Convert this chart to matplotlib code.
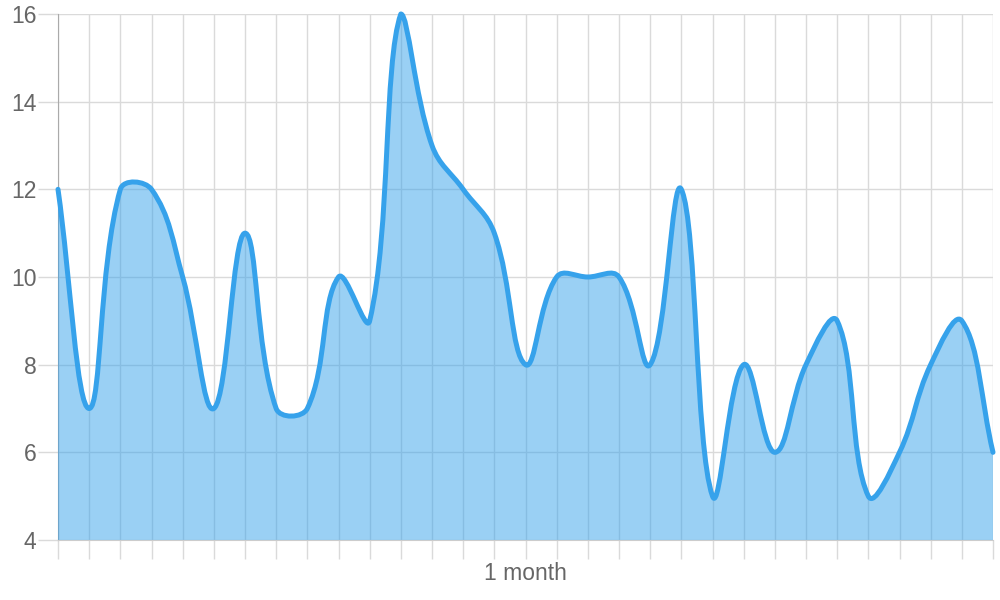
import matplotlib
matplotlib.use("Agg")
import matplotlib.pyplot as plt
import numpy as np
from matplotlib.path import Path
from matplotlib.patches import PathPatch

values = [12, 7, 12, 12, 10, 7, 11, 7, 7, 10, 9, 16, 13, 12, 11, 8, 10, 10, 10, 8,
          12, 5, 8, 6, 8, 9, 5, 6, 8, 9, 6]
y_ticks = [4, 6, 8, 10, 12, 14, 16]
x_label = "1 month"

plt.rcParams['font.family'] = ['Liberation Sans', 'DejaVu Sans']

fig = plt.figure(figsize=(10, 6), dpi=100)
L, R, B, T = 58, 993, 540, 14
ax = fig.add_axes([L / 1000, (600 - B) / 600, (R - L) / 1000, (B - T) / 600])
n = len(values)
ax.set_xlim(0, n - 1)
ax.set_ylim(4, 16)

# pixel-space spline (Chart.js style, tension 0.4)
sx = (R - L) / (n - 1)
sy = (B - T) / 12.0
px = np.arange(n) * sx
py = (np.array(values, float) - 4) * sy
t = 0.4
cps = []
for i in range(n):
    p0 = (px[max(i - 1, 0)], py[max(i - 1, 0)])
    p1 = (px[i], py[i])
    p2 = (px[min(i + 1, n - 1)], py[min(i + 1, n - 1)])
    d01 = np.hypot(p1[0] - p0[0], p1[1] - p0[1])
    d12 = np.hypot(p2[0] - p1[0], p2[1] - p1[1])
    s01 = d01 / (d01 + d12) if d01 + d12 else 0
    s12 = d12 / (d01 + d12) if d01 + d12 else 0
    fa, fb = t * s01, t * s12
    prev = (p1[0] - fa * (p2[0] - p0[0]), p1[1] - fa * (p2[1] - p0[1]))
    nxt = (p1[0] + fb * (p2[0] - p0[0]), p1[1] + fb * (p2[1] - p0[1]))
    cap = lambda q: (min(max(q[0], 0), R - L), min(max(q[1], 0), B - T))
    cps.append((cap(prev), cap(nxt)))

def to_data(q):
    return (q[0] / sx, q[1] / sy + 4)

verts = [to_data((px[0], py[0]))]
codes = [Path.MOVETO]
for i in range(1, n):
    verts += [to_data(cps[i - 1][1]), to_data(cps[i][0]), to_data((px[i], py[i]))]
    codes += [Path.CURVE4] * 3
line_path = Path(verts, codes)
fill_verts = verts + [(n - 1, 4), (0, 4), verts[0]]
fill_codes = codes + [Path.LINETO, Path.LINETO, Path.CLOSEPOLY]

ax.add_patch(PathPatch(Path(fill_verts, fill_codes), facecolor=(54/255, 162/255, 235/255, 0.5),
                       edgecolor='none', zorder=2))
ax.add_patch(PathPatch(line_path, facecolor='none', edgecolor='#36A2EB', lw=3.6,
                       capstyle='round', joinstyle='round', zorder=3, clip_on=False))

ax.set_xticks(range(n))
ax.set_xticklabels([])
ax.set_yticks(y_ticks)
ax.set_yticklabels([str(v) for v in y_ticks], fontsize=16.5, color='#666666')
ax.grid(True, color='#dadada', lw=1, zorder=0)
ax.set_axisbelow(True)
ax.tick_params(axis='x', length=13.7, color='#dadada', width=1)
ax.tick_params(axis='y', length=14.4, color='#dadada', width=1, pad=1)
for s in ['top', 'right']:
    ax.spines[s].set_visible(False)
ax.spines['left'].set_color('#aaaaaa')
ax.spines['bottom'].set_color('#cccccc')
ax.spines['left'].set_zorder(1)
fig.text((L + R) / 2 / 1000, 1 - 573 / 600, x_label, ha='center', va='center',
         fontsize=16.5, color='#666666')

fig.savefig('out.png', dpi=100)
